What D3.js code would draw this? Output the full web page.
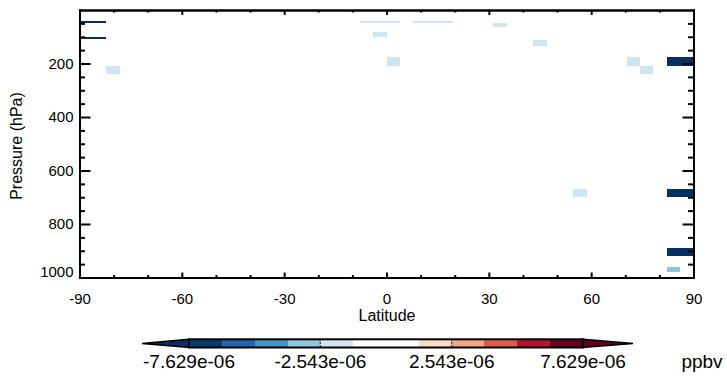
<!DOCTYPE html>
<html>
<head>
<meta charset="utf-8" />
<title>pressure-latitude</title>
<script src="https://cdn.jsdelivr.net/npm/d3@7"></script>
<style>
    body { margin: 0; background: #fff; }
    svg { font-family: "Liberation Sans", Arial, sans-serif; }
    .axis path, .axis line { stroke: #000; stroke-width: 2px; }
    .axis text { font-size: 15px; fill: #000; }
</style>
</head>
<body>
<svg width="727" height="381"></svg>
<script>
    // grid cells with non-missing values (lat bounds, pressure bounds, value)
    var latS = [-90, -90, -82.17, -7.83, 7.83, -3.91, 0, 31.30, 43.04, 70.43, 74.35, 82.17, 54.78, 82.17, 82.17, 82.17];
    var latN = [-82.17, -82.17, -78.26, 3.91, 19.57, 0, 3.91, 35.22, 46.96, 74.35, 78.26, 90, 58.70, 90, 90, 86.09];
    var pTop = [40, 101, 209, 41, 41, 82, 176, 49, 112, 176, 208, 176, 669, 669, 890, 960];
    var pBot = [48, 110, 239, 48, 48, 101, 208, 63, 135, 208, 239, 208, 699, 699, 920, 979];
    var vals = [-8.1e-6, -8.1e-6, -2.0e-6, -1.9e-6, -1.9e-6, -2.0e-6, -2.0e-6, -1.9e-6, -2.0e-6, -2.0e-6, -2.0e-6, -8.3e-6, -1.8e-6, -8.3e-6, -8.2e-6, -3.1e-6];

    // contour levels and colours (under, 12 bands, over)
    var levels = [-7.629e-6, -6.357e-6, -5.086e-6, -3.814e-6, -2.543e-6, -1.271e-6, 0,
                  1.271e-6, 2.543e-6, 3.814e-6, 5.086e-6, 6.357e-6, 7.629e-6];
    var colors = ['#053061', '#083a70', '#2166ac', '#4393c3', '#92c5de', '#d1e5f0', '#ffffff',
                  '#ffffff', '#fddbc7', '#f4a582', '#d6604d', '#b2182b', '#67001f', '#5f001c'];
    var cbTicks = [-7.629e-6, -2.543e-6, 2.543e-6, 7.629e-6];

    var latTicks = [-90, -60, -30, 0, 30, 60, 90];
    var presTicks = [200, 400, 600, 800, 1000];

    var svg = d3.select('svg');
    var L = 79.5, R = 693.5, T = 10, B = 277.5;

    var x = d3.scaleLinear().domain([-90, 90]).range([L, R]);
    var y = d3.scaleLinear().domain([0, 1000]).range([T, B]);
    var col = d3.scaleThreshold().domain(levels).range(colors);

    // cells
    svg.append('g').selectAll('rect')
        .data(vals)
        .enter()
        .append('rect')
        .attr('x', function(d, i) { return x(latS[i]); })
        .attr('width', function(d, i) { return x(latN[i]) - x(latS[i]); })
        .attr('y', function(d, i) { return y(pTop[i]); })
        .attr('height', function(d, i) { return y(pBot[i]) - y(pTop[i]); })
        .attr('fill', function(d) { return col(d); })
        .attr('shape-rendering', 'crispEdges');

    var latMinor = d3.range(-80, 90, 10).filter(function(d) { return d % 30 !== 0; });
    var presMinor = d3.range(50, 1000, 50).filter(function(d) { return d % 200 !== 0; });

    function addAxis(axis, tx, ty) {
        return svg.append('g').attr('class', 'axis')
            .attr('transform', 'translate(' + tx + ',' + ty + ')')
            .call(axis);
    }

    // bottom
    addAxis(d3.axisBottom(x).tickValues(latMinor).tickSize(-2.5).tickSizeOuter(0).tickFormat(''), 0, B);
    addAxis(d3.axisBottom(x).tickValues(latTicks).tickSize(-5).tickSizeOuter(0).tickPadding(16)
        .tickFormat(function(d) { return String(d); }), 0, B);
    // top
    addAxis(d3.axisTop(x).tickValues(latMinor).tickSize(-2.5).tickSizeOuter(0).tickFormat(''), 0, T);
    addAxis(d3.axisTop(x).tickValues(latTicks).tickSize(-5).tickSizeOuter(0).tickFormat(''), 0, T);
    // left
    addAxis(d3.axisLeft(y).tickValues(presMinor).tickSize(-5.5).tickSizeOuter(0).tickFormat(''), L, 0);
    var yl = addAxis(d3.axisLeft(y).tickValues(presTicks).tickSize(-11).tickSizeOuter(0).tickPadding(6)
        .tickFormat(function(d) { return String(d); }), L, 0);
    yl.selectAll('text').filter(function(d) { return d === 1000; }).attr('y', -6);
    // right
    addAxis(d3.axisRight(y).tickValues(presMinor).tickSize(-5.5).tickSizeOuter(0).tickFormat(''), R, 0);
    addAxis(d3.axisRight(y).tickValues(presTicks).tickSize(-11).tickSizeOuter(0).tickFormat(''), R, 0);

    svg.selectAll('.axis .domain').attr('stroke-linecap', 'square');

    // axis titles
    svg.append('text')
        .attr('x', 387).attr('y', 321)
        .attr('text-anchor', 'middle')
        .style('font-size', '16px')
        .text('Latitude');

    svg.append('text')
        .attr('transform', 'translate(22,146) rotate(-90)')
        .attr('text-anchor', 'middle')
        .style('font-size', '16px')
        .text('Pressure (hPa)');

    // colour bar
    var cx = d3.scaleLinear().domain([levels[0], levels[levels.length - 1]]).range([189, 583]);
    var cbTop = 339.3, cbH = 8.2, cbMid = cbTop + cbH / 2;
    var cb = svg.append('g');

    cb.append('path')
        .attr('d', 'M' + cx(levels[0]) + ',' + cbTop + 'L142,' + cbMid + 'L' + cx(levels[0]) + ',' + (cbTop + cbH) + 'Z')
        .attr('fill', colors[0]).attr('stroke', '#000').attr('stroke-width', 1.5);
    cb.append('path')
        .attr('d', 'M' + cx(levels[12]) + ',' + cbTop + 'L633,' + cbMid + 'L' + cx(levels[12]) + ',' + (cbTop + cbH) + 'Z')
        .attr('fill', colors[13]).attr('stroke', '#000').attr('stroke-width', 1.5);

    cb.selectAll('rect.band')
        .data(levels.slice(0, -1))
        .enter()
        .append('rect')
        .attr('class', 'band')
        .attr('x', function(d) { return cx(d); })
        .attr('width', function(d, i) { return cx(levels[i + 1]) - cx(d); })
        .attr('y', cbTop).attr('height', cbH)
        .attr('fill', function(d, i) { return colors[i + 1]; })
        .attr('shape-rendering', 'crispEdges');

    cb.append('rect')
        .attr('x', cx(levels[0])).attr('width', cx(levels[12]) - cx(levels[0]))
        .attr('y', cbTop).attr('height', cbH)
        .attr('fill', 'none').attr('stroke', '#000').attr('stroke-width', 2);

    cb.selectAll('line.tk')
        .data(cbTicks)
        .enter()
        .append('line')
        .attr('class', 'tk')
        .attr('x1', function(d) { return cx(d); }).attr('x2', function(d) { return cx(d); })
        .attr('y1', cbTop).attr('y2', cbTop + cbH)
        .attr('stroke', '#000')
        .attr('stroke-width', function(d, i) { return (i === 0 || i === cbTicks.length - 1) ? 2 : 1.2; })
        .attr('stroke-dasharray', function(d, i) { return (i === 0 || i === cbTicks.length - 1) ? null : '1.5,1.5'; });

    function fmtE(v) {
        return d3.format('.3e')(v).replace('\u2212', '-').replace(/e([+\-\u2212])(\d)$/, function(m, s, n) {
            return 'e' + (s === '+' ? '+' : '-') + '0' + n;
        });
    }

    cb.selectAll('text.lab')
        .data(cbTicks)
        .enter()
        .append('text')
        .attr('class', 'lab')
        .attr('x', function(d) { return cx(d); })
        .attr('y', 368)
        .attr('text-anchor', 'middle')
        .style('font-size', '19px')
        .text(fmtE);

    svg.append('text')
        .attr('x', 702).attr('y', 368)
        .attr('text-anchor', 'middle')
        .style('font-size', '19px')
        .text('ppbv');
</script>
</body>
</html>
